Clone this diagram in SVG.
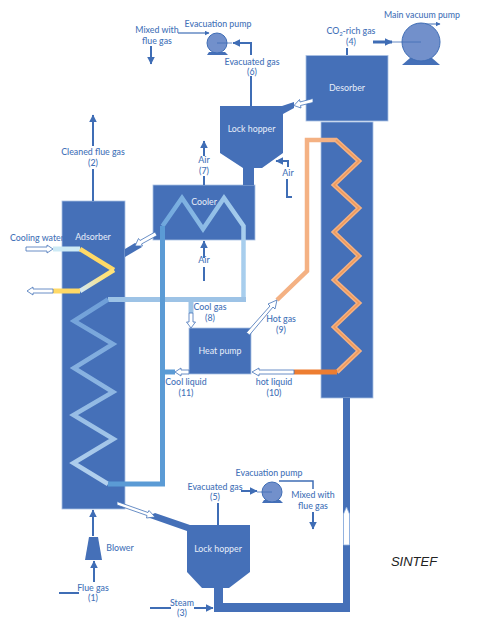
<svg xmlns="http://www.w3.org/2000/svg" width="500" height="644" viewBox="0 0 500 644">
<defs>
<marker id="ah" markerWidth="5" markerHeight="5" refX="4.5" refY="2.5" orient="auto" markerUnits="userSpaceOnUse" viewBox="0 0 5 5"><path d="M0 0L5 2.5L0 5z" fill="#3f6db5"/></marker>
<marker id="big" markerWidth="8" markerHeight="8" refX="6.500" refY="3.500" orient="auto" markerUnits="userSpaceOnUse" viewBox="0 0 7 7"><path d="M0 0L7 3.5L0 7z" fill="#3f6db5"/></marker>
<linearGradient id="yg" gradientUnits="userSpaceOnUse" x1="105" y1="277" x2="82" y2="290"><stop offset="0" stop-color="#ffe27a"/><stop offset="1" stop-color="#d5e8ee"/></linearGradient>
<linearGradient id="cg" gradientUnits="userSpaceOnUse" x1="160" y1="0" x2="246" y2="0"><stop offset="0" stop-color="#6ea6dc"/><stop offset="1" stop-color="#a9cfee"/></linearGradient>
<linearGradient id="ag" gradientUnits="userSpaceOnUse" x1="0" y1="300" x2="0" y2="480"><stop offset="0" stop-color="#6f9fd8"/><stop offset=".5" stop-color="#8db6e2"/><stop offset="1" stop-color="#b3d1ee"/></linearGradient>
</defs>
<style>
.eq{fill:#4570b8;stroke:#a9c0e4;stroke-width:.8}
.solid{fill:#4570b8}
.t{font-family:Lato,"Open Sans",sans-serif;font-size:8.8px;fill:#4472b8;text-anchor:middle;font-weight:500}
.w{font-family:Lato,"Open Sans",sans-serif;font-size:8.8px;fill:#e8eef8;text-anchor:middle}
.l{fill:none;stroke:#3f6db5;stroke-width:2}
.h{fill:#fff;stroke:#4472b8;stroke-width:.8;stroke-linejoin:miter}
.pump{fill:#7290cb;stroke:#3f6db5;stroke-width:1}
.c{fill:none;stroke-linejoin:miter}
</style>

<g id="adsorber"><rect class="eq" x="62" y="201" width="63" height="308"/><path class="solid" d="M125 257V249L135 243L142 247Z"/><text class="w" x="93" y="240">Adsorber</text></g>
<g id="cooler"><rect class="eq" x="153" y="185" width="102" height="55"/></g>
<g id="desorber"><rect class="eq" x="306" y="55.500" width="82" height="65.500"/><text class="w" x="347" y="91">Desorber</text></g>
<g id="riser"><rect class="eq" x="321" y="122" width="52" height="276"/></g>
<g id="heat-pump"><rect class="eq" x="189" y="328" width="62" height="46"/><text class="w" x="220" y="354">Heat pump</text></g>
<g id="lock-hopper-top"><path class="solid" d="M220 106H282L294 102V108L283 114V153L262 168H254V185H243V168L220 153Z"/><text class="w" x="251.500" y="132">Lock hopper</text></g>
<g id="lock-hopper-bottom"><path class="solid" d="M147 517L155 513L190 525H250V572L229 588H223V603H343V398H350V612H214V588H202L187 572V531Z"/><text class="w" x="218" y="552">Lock hopper</text></g>
<g id="blower"><path class="solid" d="M89 537H98L102 560H85Z"/></g>

<g id="connectors">
<path class="c" d="M243.500 299.500V226L224 198L203 229L182 198L162.500 226" stroke="url(#cg)" stroke-width="4.500"/>
<path class="c" d="M246 299.500H108" stroke="#9dc3e6" stroke-width="5"/>
<path class="c" d="M108 299.500L74 321L113 344L74 368L113 392L73.500 415L113.500 439L73.500 463L108 484" stroke="url(#ag)" stroke-width="4.500"/>
<path class="c" d="M162.500 226V484H108" stroke="#5b9bd5" stroke-width="5"/>
<path class="c" d="M165 372H175" stroke="#5b9bd5" stroke-width="5"/>
<path class="c" d="M191 302V313" stroke="#9dc3e6" stroke-width="5"/>
<path class="c" d="M277 300L307 271V140H336L359 161L334 185L359 208L334 232L359 256L334 280L359 303L334 327L359 351L337 372" stroke="#f4b183" stroke-width="4.500"/>
<path class="c" d="M336 140L359 161L334 185L359 208L334 232L359 256L334 280L359 303L334 327L359 351L337 372" stroke="#ef9a5a" stroke-width="1.500"/>
<path class="c" d="M337 372H294" stroke="#ed7d31" stroke-width="5"/>
<path class="c" d="M53 249H80" stroke="#cdeaf5" stroke-width="5"/>
<path class="c" d="M80 249L114 270" stroke="#ffd966" stroke-width="4.500"/>
<path class="c" d="M114 270L80 291" stroke="url(#yg)" stroke-width="4.500"/>
<path class="c" d="M53 291H80" stroke="#ffd966" stroke-width="5"/>

<path class="h" d="M26 247H47V245L53 249L47 253V251H26Z"/>
<path class="h" d="M53 289H33V287L27 291L33 295V293H53Z"/>
<path class="h" d="M155 232L140 240.500L138.500 238.500L135 246L142.500 246L141.500 244L157 235.500Z"/>
<path class="h" d="M117 501.500L148 512.500L149 510.500L155 517L146.500 518L147 515.500L117 505Z"/>
<path class="h" d="M313 98.500L300 102L299.500 99.500L294 105.500L301 108L300.500 105.500L313 102.500Z"/>
<path class="h" d="M189 313H193V322H195.500L191 328L186.500 322H189Z"/>
<path class="h" d="M189 370H181V368L175 372L181 376V374H189Z"/>
<path class="h" d="M294 370H259V368L252 372L259 376V374H294Z"/>
<path class="h" d="M246.500 332.500L270 306L268 304L277 300L275 309L273 307L249.500 335Z"/>
<path d="M343.500 545V514L346.500 507L349.500 514V545Z" fill="#fff" stroke="#8fb0e0" stroke-width=".8"/>

<path class="l" d="M93 201V169"/><path class="l" d="M93 146V115" marker-end="url(#big)"/>
<path class="l" d="M204 185V176"/><path class="l" d="M204 156V141" marker-end="url(#big)"/>
<path class="l" d="M204 281V267"/><path class="l" d="M204 258V241" marker-end="url(#big)"/>
<path class="l" d="M292 197H287V179"/><path class="l" d="M288 167V161H276" marker-end="url(#big)"/>
<path class="l" d="M251 106V76"/><path class="l" d="M251 55V43H233" marker-end="url(#big)"/>
<path class="l" d="M151 46V64" marker-end="url(#big)"/>
<path class="l" d="M347 48V55"/>
<path d="M373 42H392" stroke="#3f6db5" stroke-width="3" marker-end="url(#big)" fill="none"/>
<path d="M425 24H440" stroke="#3f6db5" stroke-width="1" fill="none" marker-end="url(#ah)"/>
<path d="M178 33H209" stroke="#3f6db5" stroke-width="1.200" fill="none" marker-end="url(#ah)"/>
<path class="l" d="M93 536V510" marker-end="url(#big)"/>
<path class="l" d="M94 582V561" marker-end="url(#big)"/>
<path class="l" d="M59 593H79"/>
<path class="l" d="M150 608H171"/>
<path class="l" d="M194 608H213" marker-end="url(#big)"/>
<path class="l" d="M218 503V525"/>
<path class="l" d="M241 491H257" marker-end="url(#big)"/>
<path d="M279 481H313V489" stroke="#3f6db5" stroke-width="1.500" fill="none"/>
<path class="l" d="M313 512V529" marker-end="url(#big)"/>
</g>

<g id="evacuation-pump-top"><path class="solid" d="M209 52H225L228 55H207Z"/><circle class="pump" cx="217" cy="43" r="10"/><path d="M232 43H217" stroke="#3f6db5" stroke-width=".8"/></g>
<g id="main-vacuum-pump"><path class="solid" d="M410 58H432L440 65H402Z"/><circle class="pump" cx="421" cy="42" r="19"/><path d="M392 42H421" stroke="#3f6db5" stroke-width=".8"/></g>
<g id="evacuation-pump-bottom"><path class="solid" d="M264 500H280L283 503H262Z"/><circle class="pump" cx="272" cy="492" r="10"/><path d="M257 492H272" stroke="#3f6db5" stroke-width=".8"/></g>

<g id="labels">
<text class="w" x="204" y="205">Cooler</text>
<text class="t" x="157" y="33">Mixed with</text><text class="t" x="157" y="44">flue gas</text>
<text class="t" x="218" y="27">Evacuation pump</text>
<text class="t" x="252" y="65">Evacuated gas</text><text class="t" x="252" y="75">(6)</text>
<text class="t" x="351" y="34">CO<tspan font-size="5.500" dy="1.500">2</tspan><tspan dy="-1.500">-rich gas</tspan></text><text class="t" x="351" y="45">(4)</text>
<text class="t" x="422" y="18">Main vacuum pump</text>
<text class="t" x="93" y="155">Cleaned flue gas</text><text class="t" x="93" y="166">(2)</text>
<text class="t" x="204" y="163">Air</text><text class="t" x="204" y="174">(7)</text>
<text class="t" x="288" y="176">Air</text>
<text class="t" x="204" y="263">Air</text>
<text class="t" x="37" y="241">Cooling water</text>
<text class="t" x="210" y="310">Cool gas</text><text class="t" x="210" y="321">(8)</text>
<text class="t" x="281" y="322">Hot gas</text><text class="t" x="281" y="333">(9)</text>
<text class="t" x="186" y="385">Cool liquid</text><text class="t" x="186" y="396">(11)</text>
<text class="t" x="274" y="385">hot liquid</text><text class="t" x="274" y="396">(10)</text>
<text class="t" x="120" y="551">Blower</text>
<text class="t" x="93" y="591">Flue gas</text><text class="t" x="93" y="601">(1)</text>
<text class="t" x="182" y="606">Steam</text><text class="t" x="182" y="616">(3)</text>
<text class="t" x="215" y="490">Evacuated gas</text><text class="t" x="215" y="500">(5)</text>
<text class="t" x="269" y="476">Evacuation pump</text>
<text class="t" x="313" y="498">Mixed with</text><text class="t" x="313" y="509">flue gas</text>
<text x="414" y="566" font-family="Liberation Sans, Arial, sans-serif" font-style="italic" font-size="13" fill="#222" text-anchor="middle">SINTEF</text>
</g>
</svg>
